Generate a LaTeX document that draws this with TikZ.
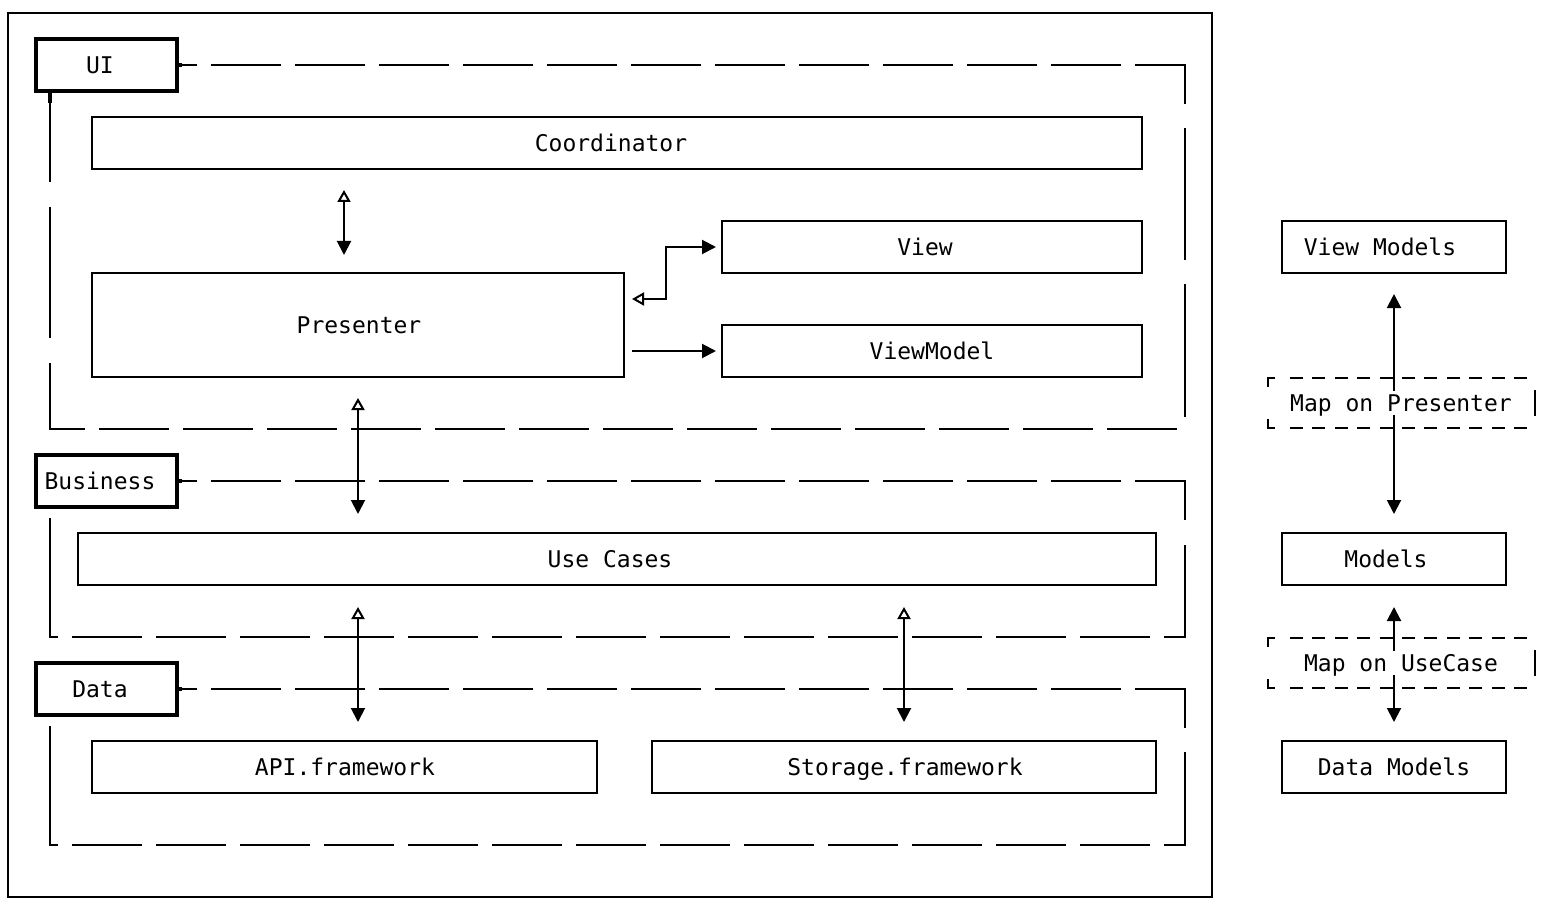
\documentclass[tikz,border=0pt]{standalone}
\usepackage{fontspec}
\newfontfamily\monofam{DejaVu Sans Mono}
\usetikzlibrary{arrows.meta}
\begin{document}
\begin{tikzpicture}[x=1pt,y=-1pt,
  box/.style={draw, line width=2pt, inner sep=0pt, outer sep=0pt, rectangle},
  lbl/.style={draw, line width=4pt, inner sep=0pt, outer sep=0pt, minimum width=141pt, minimum height=52pt},
  txt/.style={font=\monofam\fontsize{23}{28}\selectfont, inner sep=0pt, text height=16.8pt, text depth=0pt},
  maptxt/.style={txt, fill=white, inner ysep=4pt, inner xsep=0pt},
  region/.style={line width=2pt},
  longdash/.style={region, dash pattern=on 70pt off 14pt},
  shortdash/.style={region, dash pattern=on 13pt off 9.4pt},
  conn/.style={line width=2pt},
  fillhead/.tip={Triangle[length=14pt,width=14pt]},
  openhead/.tip={Triangle[open,length=12pt,width=13pt]},
  stub/.style={line width=4pt}
]
\useasboundingbox (0,0) rectangle (1542,912);

% outer frame
\node[box, minimum width=1204pt, minimum height=884pt] (frame) at (610,455) {};

% layer labels
\node[lbl] (ui) at (106.5,65) {};
\node[txt] (uit) at (100,65) {UI};
\node[lbl] (bus) at (106.5,481) {};
\node[txt] (bust) at (100,481) {Business};
\node[lbl] (data) at (106.5,689) {};
\node[txt] (datat) at (100,689) {Data};

% UI boxes
\node[box, minimum width=1050pt, minimum height=52pt] (coord) at (617,143) {};
\node[txt] (coordt) at (611,143) {Coordinator};
\node[box, minimum width=420pt, minimum height=52pt] (view) at (932,247) {};
\node[txt] (viewt) at (925,247) {View};
\node[box, minimum width=532pt, minimum height=104pt] (pres) at (358,325) {};
\node[txt] (prest) at (359,325) {Presenter};
\node[box, minimum width=420pt, minimum height=52pt] (vmod) at (932,351) {};
\node[txt] (vmodt) at (932,351) {ViewModel};

% Business
\node[box, minimum width=1078pt, minimum height=52pt] (usec) at (617,559) {};
\node[txt] (usect) at (610,559) {Use Cases};

% Data
\node[box, minimum width=505pt, minimum height=52pt] (api) at (344.5,767) {};
\node[txt] (apit) at (345,767) {API.framework};
\node[box, minimum width=504pt, minimum height=52pt] (stor) at (904,767) {};
\node[txt] (stort) at (905,767) {Storage.framework};

% right column
\node[box, minimum width=224pt, minimum height=52pt] (vms) at (1394,247) {};
\node[txt] (vmst) at (1380,247) {View Models};
\node[box, minimum width=224pt, minimum height=52pt] (models) at (1394,559) {};
\node[txt] (modelst) at (1386,559) {Models};
\node[box, minimum width=224pt, minimum height=52pt] (dms) at (1394,767) {};
\node[txt] (dmst) at (1394,767) {Data Models};

% ---- UI region
\draw[stub] (ui.east) -- ++(5,0);
\draw[stub] ([xshift=14pt]ui.south west) -- ++(0,12);
\draw[longdash, dash phase=50pt] (ui.east) -- (1185,65);
\draw[region] (1160,65) -- (1185,65) -- (1185,104);
\draw[region] (1185,128) -- (1185,260);
\draw[region] (1185,284) -- (1185,417);
\draw[longdash, dash phase=35pt] (50,429) -- (1178,429);
\draw[region] (50,363) -- (50,429) -- (85,429);
\draw[region] (50,207) -- (50,338);
\draw[region] ([xshift=14pt]ui.south west) -- (50,182);

% ---- Business region
\draw[stub] (bus.east) -- ++(5,0);
\draw[longdash, dash phase=50pt] (bus.east) -- (1185,481);
\draw[region] (1160,481) -- (1185,481) -- (1185,520);
\draw[region] (1185,545) -- (1185,637) -- (1164,637);
\draw[longdash, dash phase=62pt] (50,637) -- (1150,637);
\draw[region] (50,518) -- (50,637) -- (58,637);

% ---- Data region
\draw[stub] (data.east) -- ++(5,0);
\draw[longdash, dash phase=50pt] (data.east) -- (1185,689);
\draw[region] (1160,689) -- (1185,689) -- (1185,728);
\draw[region] (1185,752) -- (1185,845) -- (1164,845);
\draw[longdash, dash phase=62pt] (50,845) -- (1150,845);
\draw[region] (50,726) -- (50,845) -- (58,845);

% ---- connectors
\draw[conn, {openhead}-{fillhead}, shorten <=21pt, shorten >=18pt]
  (coord.south -| 344,0) -- (pres.north -| 344,0);
\draw[conn, {openhead}-{fillhead}, shorten <=8pt, shorten >=6pt]
  (pres.east |- 0,299) -- ++(42,0) |- (view.west);
\draw[conn, -{fillhead}, shorten <=8pt, shorten >=6pt]
  (pres.east |- vmod.west) -- (vmod.west);
\draw[conn, {openhead}-{fillhead}, shorten <=21pt, shorten >=19pt]
  (pres.south) -- (usec.north -| pres.south);
\draw[conn, {openhead}-{fillhead}, shorten <=22pt, shorten >=19pt]
  (usec.south -| 358,0) -- (api.north -| 358,0);
\draw[conn, {openhead}-{fillhead}, shorten <=22pt, shorten >=19pt]
  (usec.south -| stor.north) -- (stor.north);
\draw[conn, {fillhead}-{fillhead}, shorten <=21pt, shorten >=19pt]
  (vms.south) -- (models.north);
\draw[conn, {fillhead}-{fillhead}, shorten <=22pt, shorten >=19pt]
  (models.south) -- (dms.north);

% ---- mapping boxes
\draw[region] (1268,387) -- (1268,378) -- (1275,378);
\draw[shortdash] (1290,378) -- (1527,378);
\draw[region] (1268,419) -- (1268,428) -- (1275,428);
\draw[shortdash] (1290,428) -- (1527,428);
\draw[region] (1535,390) -- (1535,416);
\node[maptxt] (mapp) at (1401,403) {Map on Presenter};

\draw[region] (1268,647) -- (1268,638) -- (1275,638);
\draw[shortdash] (1290,638) -- (1527,638);
\draw[region] (1268,679) -- (1268,688) -- (1275,688);
\draw[shortdash] (1290,688) -- (1527,688);
\draw[region] (1535,650) -- (1535,676);
\node[maptxt] (mapu) at (1401,663) {Map on UseCase};
\end{tikzpicture}
\end{document}
